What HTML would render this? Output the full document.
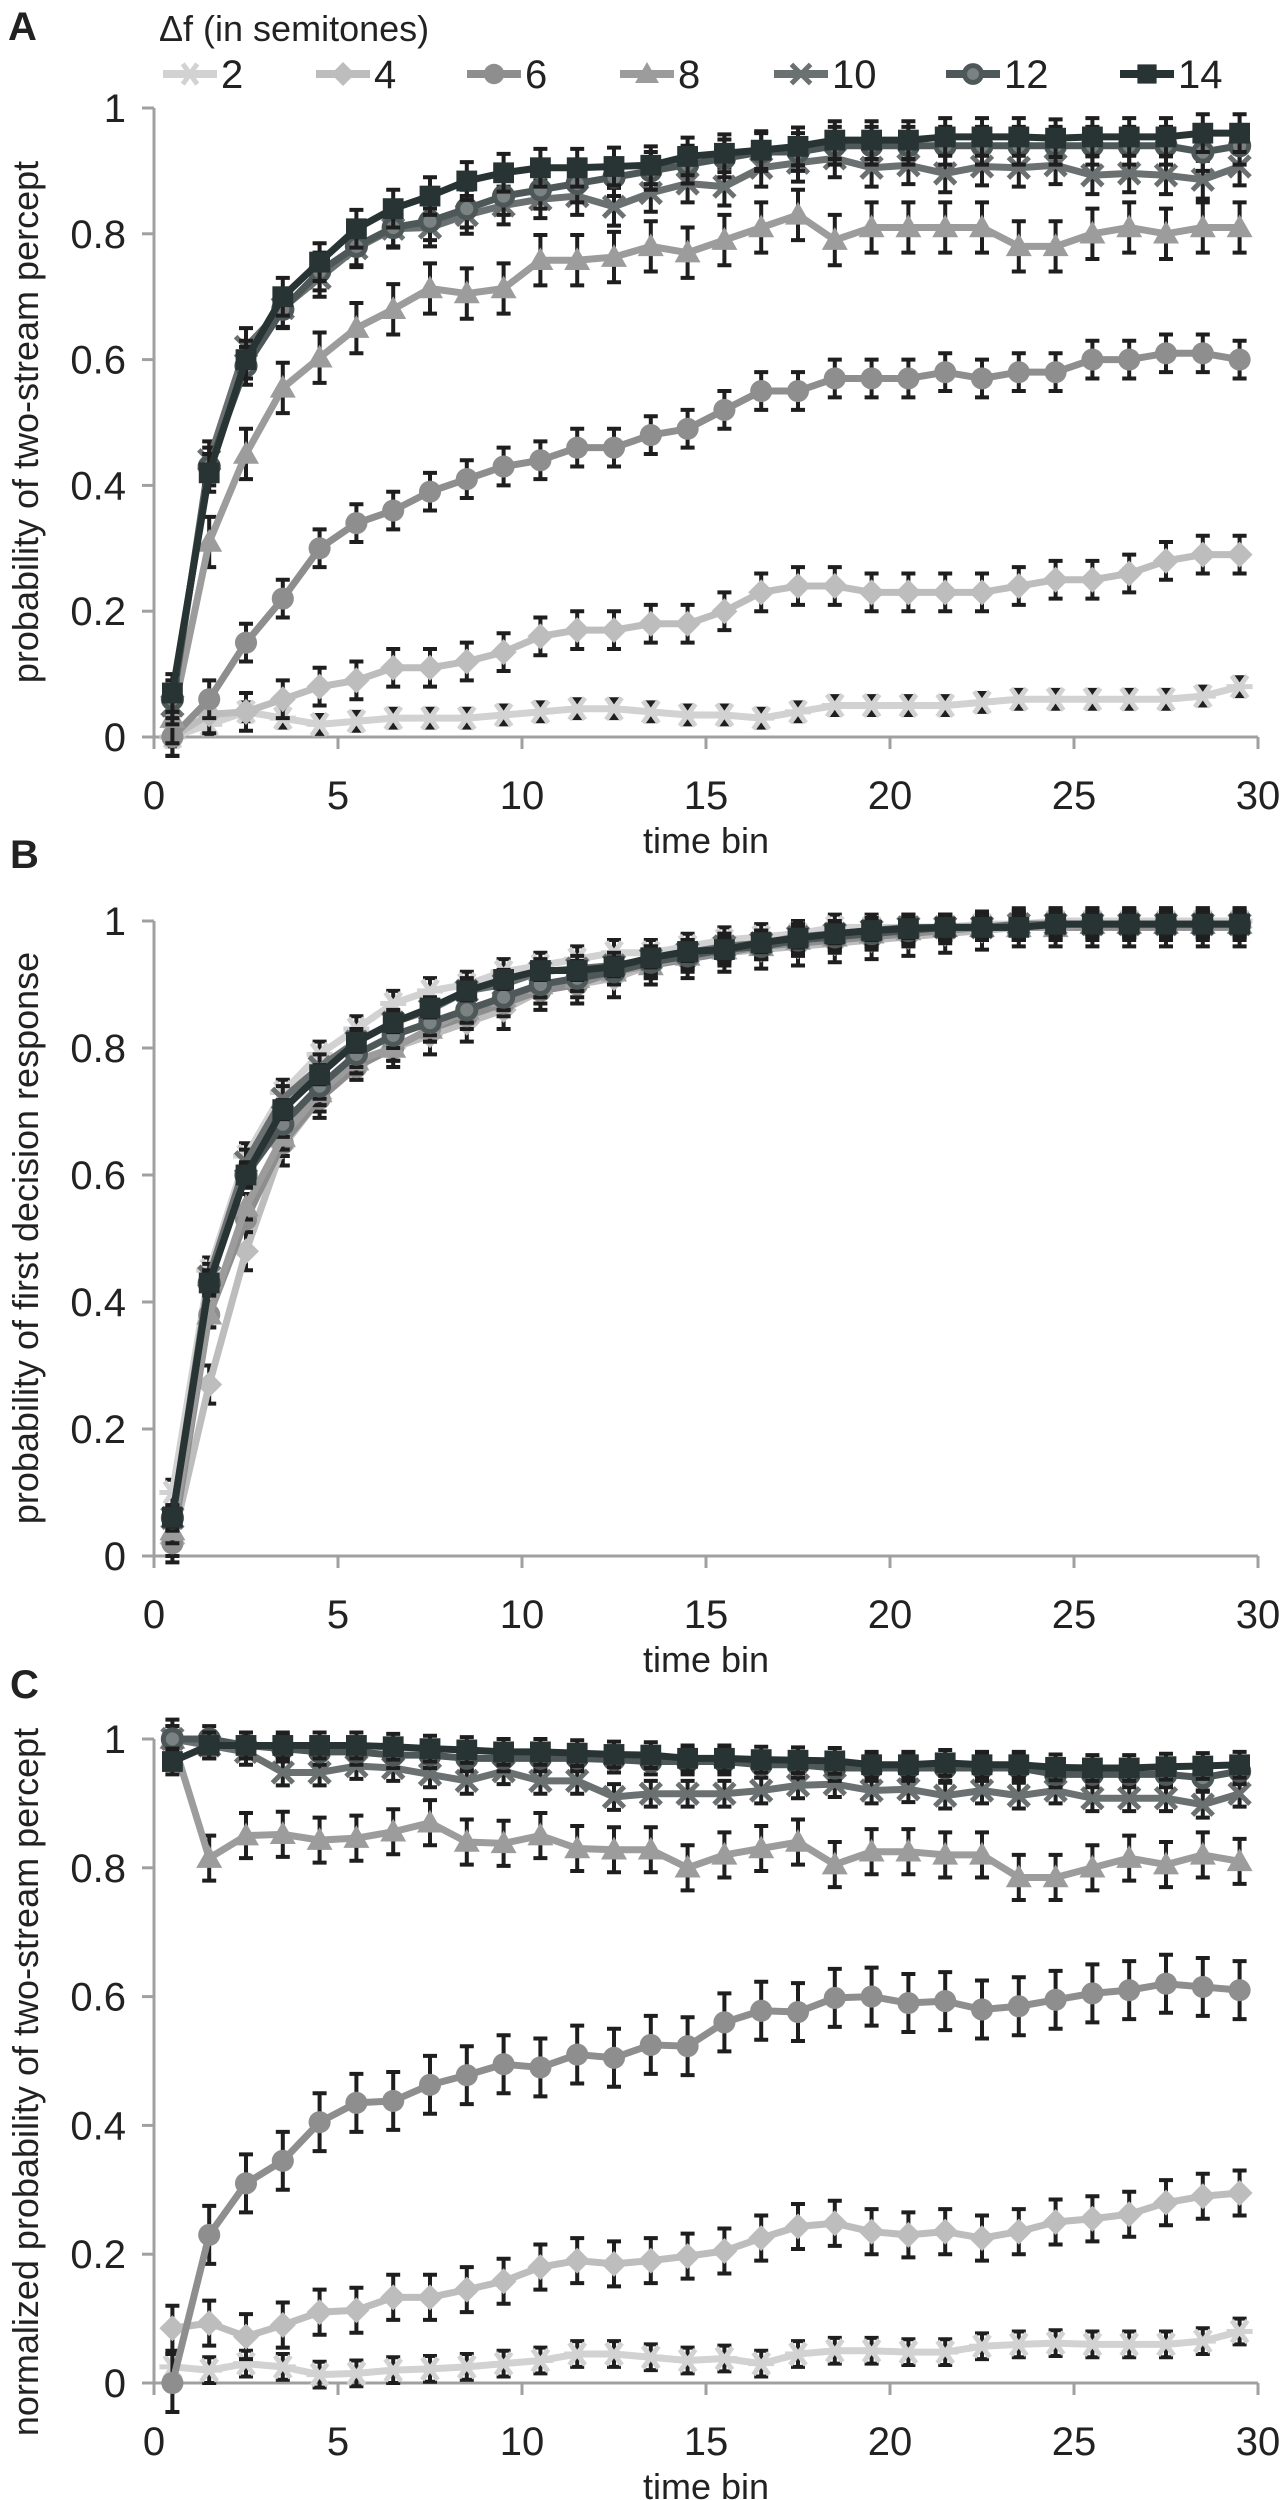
<!DOCTYPE html>
<html><head><meta charset="utf-8"><style>
html,body{margin:0;padding:0;background:#fff;}
svg{display:block;font-family:"Liberation Sans Narrow","Liberation Sans",sans-serif;}
</style></head><body>
<svg id="fig" width="1282" height="2500" viewBox="0 0 1282 2500" xmlns="http://www.w3.org/2000/svg">
<text x="8" y="40" font-family="Liberation Sans" font-weight="bold" font-size="40" fill="#222">A</text>
<text x="10" y="868" font-family="Liberation Sans" font-weight="bold" font-size="40" fill="#222">B</text>
<text x="10" y="1698" font-family="Liberation Sans" font-weight="bold" font-size="40" fill="#222">C</text>
<text x="159" y="41" font-size="36" fill="#222">Δf (in semitones)</text>
<g id="legend"></g>
</svg>
<script>
const bins = [0.5,1.5,2.5,3.5,4.5,5.5,6.5,7.5,8.5,9.5,10.5,11.5,12.5,13.5,14.5,15.5,16.5,17.5,18.5,19.5,20.5,21.5,22.5,23.5,24.5,25.5,26.5,27.5,28.5,29.5];
const seriesNames = ["2","4","6","8","10","12","14"];
const xTicks = [0,5,10,15,20,25,30];
const yTicks = [0,0.2,0.4,0.6,0.8,1];
const yTickLabels = ["0","0.2","0.4","0.6","0.8","1"];

const a2 = [0,0.02,0.04,0.03,0.02,0.025,0.03,0.03,0.03,0.035,0.04,0.045,0.045,0.04,0.035,0.035,0.03,0.04,0.05,0.05,0.05,0.05,0.055,0.06,0.06,0.06,0.06,0.06,0.065,0.08];
const a4 = [0,0.036,0.04,0.06,0.08,0.09,0.11,0.11,0.12,0.135,0.16,0.17,0.17,0.18,0.18,0.2,0.23,0.24,0.24,0.23,0.23,0.23,0.23,0.24,0.25,0.25,0.26,0.28,0.29,0.29];
const a6 = [0,0.06,0.15,0.22,0.3,0.34,0.36,0.39,0.41,0.43,0.44,0.46,0.46,0.48,0.49,0.52,0.55,0.55,0.57,0.57,0.57,0.58,0.57,0.58,0.58,0.6,0.6,0.61,0.61,0.6];
const a8 = [0.03,0.31,0.45,0.555,0.603,0.65,0.68,0.713,0.705,0.713,0.758,0.758,0.763,0.78,0.77,0.79,0.81,0.83,0.79,0.81,0.81,0.81,0.81,0.78,0.78,0.8,0.81,0.8,0.81,0.81];
const a10 = [0.05,0.44,0.62,0.682,0.73,0.777,0.808,0.81,0.83,0.845,0.855,0.86,0.843,0.865,0.88,0.875,0.905,0.913,0.92,0.905,0.909,0.896,0.907,0.905,0.909,0.893,0.896,0.893,0.886,0.907];
const a12 = [0.06,0.43,0.59,0.68,0.74,0.78,0.81,0.82,0.84,0.86,0.87,0.88,0.89,0.9,0.91,0.92,0.93,0.93,0.94,0.94,0.94,0.94,0.94,0.94,0.94,0.94,0.94,0.94,0.93,0.94];
const a14 = [0.07,0.42,0.6,0.7,0.755,0.808,0.84,0.86,0.884,0.897,0.905,0.905,0.907,0.909,0.923,0.928,0.933,0.939,0.949,0.949,0.949,0.954,0.954,0.954,0.952,0.954,0.954,0.954,0.96,0.96];
const aErr = [0.015,0.03,0.03,0.04,0.03,0.03,0.03];

const b2 = [0.1,0.45,0.63,0.73,0.79,0.83,0.87,0.89,0.9,0.92,0.93,0.94,0.95,0.95,0.96,0.97,0.975,0.98,0.99,0.99,0.99,0.99,0.995,0.995,1,1,1,1,1,1];
const b4 = [0.02,0.27,0.48,0.645,0.72,0.78,0.8,0.82,0.84,0.86,0.89,0.9,0.91,0.93,0.94,0.95,0.955,0.96,0.965,0.97,0.975,0.98,0.985,0.99,0.99,0.99,0.99,0.99,0.99,0.99];
const b6 = [0.02,0.38,0.53,0.65,0.72,0.77,0.8,0.83,0.85,0.87,0.89,0.9,0.92,0.93,0.94,0.95,0.96,0.965,0.97,0.975,0.98,0.985,0.99,0.99,0.99,0.99,0.99,0.99,0.99,0.99];
const b8 = [0.04,0.38,0.55,0.66,0.73,0.78,0.8,0.83,0.86,0.88,0.9,0.91,0.92,0.93,0.945,0.955,0.96,0.97,0.975,0.98,0.985,0.99,0.99,0.99,0.99,0.995,0.995,0.995,0.995,0.995];
const b10 = [0.06,0.44,0.62,0.72,0.77,0.81,0.84,0.86,0.89,0.9,0.92,0.925,0.93,0.94,0.95,0.96,0.965,0.975,0.98,0.985,0.99,0.99,0.99,0.995,0.995,0.995,0.995,0.995,0.995,0.995];
const b12 = [0.06,0.43,0.6,0.68,0.74,0.79,0.82,0.84,0.86,0.88,0.9,0.91,0.92,0.935,0.945,0.955,0.96,0.97,0.975,0.98,0.985,0.99,0.99,0.99,0.995,0.995,0.995,0.995,0.995,0.995];
const b14 = [0.061,0.43,0.6,0.703,0.758,0.809,0.84,0.863,0.89,0.908,0.922,0.922,0.928,0.942,0.952,0.955,0.966,0.973,0.98,0.985,0.988,0.99,0.99,0.99,0.995,0.995,0.995,0.995,0.995,0.995];
const bErr = [0.02,0.03,0.02,0.02,0.02,0.02,0.015];

const c2 = [0.025,0.02,0.03,0.025,0.013,0.015,0.02,0.022,0.025,0.03,0.035,0.045,0.045,0.04,0.035,0.038,0.03,0.045,0.05,0.05,0.048,0.048,0.057,0.06,0.062,0.06,0.06,0.06,0.065,0.08];
const c4 = [0.085,0.093,0.072,0.09,0.11,0.113,0.133,0.133,0.145,0.158,0.18,0.19,0.185,0.19,0.197,0.205,0.225,0.243,0.248,0.235,0.23,0.235,0.225,0.235,0.25,0.255,0.262,0.28,0.29,0.295];
const c6 = [0,0.23,0.31,0.345,0.405,0.435,0.438,0.463,0.478,0.495,0.49,0.51,0.505,0.525,0.523,0.56,0.578,0.576,0.598,0.6,0.59,0.593,0.58,0.585,0.595,0.605,0.61,0.62,0.615,0.61];
const c8 = [1,0.815,0.85,0.852,0.843,0.846,0.856,0.87,0.84,0.838,0.85,0.83,0.828,0.828,0.8,0.82,0.83,0.84,0.805,0.825,0.825,0.82,0.82,0.785,0.785,0.8,0.815,0.805,0.82,0.81];
const c10 = [1,0.99,0.98,0.948,0.948,0.958,0.955,0.945,0.935,0.95,0.935,0.935,0.91,0.915,0.915,0.915,0.92,0.928,0.93,0.92,0.922,0.912,0.92,0.912,0.92,0.908,0.908,0.908,0.898,0.915];
const c12 = [1,1,0.99,0.985,0.98,0.98,0.975,0.975,0.97,0.97,0.97,0.97,0.968,0.965,0.965,0.965,0.96,0.96,0.955,0.955,0.955,0.955,0.955,0.955,0.945,0.945,0.945,0.945,0.94,0.95];
const c14 = [0.965,0.99,0.99,0.99,0.99,0.99,0.988,0.985,0.983,0.98,0.98,0.978,0.976,0.975,0.97,0.97,0.968,0.967,0.966,0.96,0.96,0.963,0.96,0.96,0.956,0.955,0.955,0.957,0.958,0.96];
const cErr = [0.02,0.035,0.045,0.035,0.02,0.02,0.02];

const NS = "http://www.w3.org/2000/svg";
const svg = document.getElementById('fig');
const colors = ["#d2d2d2","#bdbdbd","#8e8e8e","#9c9c9c","#6b7070","#4f5858","#283333"];
const markers = ["star","diamond","circle","triangle","x","ring","square"];
const X0 = 154, X1 = 1258;
function xs(v){ return X0 + (v/30)*(X1-X0); }
function mk(tag, attrs, parent){
  const e = document.createElementNS(NS, tag);
  for (const k in attrs) e.setAttribute(k, attrs[k]);
  (parent||svg).appendChild(e);
  return e;
}
function drawMarker(g, type, cx, cy, col, s){
  let e;
  if (type==="star"){
    e = mk('path',{d:`M${cx-s} ${cy}H${cx+s}M${cx-s*0.6} ${cy-s*0.85}L${cx+s*0.6} ${cy+s*0.85}M${cx+s*0.6} ${cy-s*0.85}L${cx-s*0.6} ${cy+s*0.85}`,stroke:col,'stroke-width':5,fill:'none'},g);
  } else if (type==="diamond"){
    e = mk('path',{d:`M${cx} ${cy-s}L${cx+s} ${cy}L${cx} ${cy+s}L${cx-s} ${cy}Z`,fill:col},g);
  } else if (type==="circle"){
    e = mk('circle',{cx:cx,cy:cy,r:s*0.85,fill:col},g);
  } else if (type==="triangle"){
    e = mk('path',{d:`M${cx} ${cy-s}L${cx+s} ${cy+s*0.75}L${cx-s} ${cy+s*0.75}Z`,fill:col},g);
  } else if (type==="x"){
    e = mk('path',{d:`M${cx-s*0.8} ${cy-s*0.8}L${cx+s*0.8} ${cy+s*0.8}M${cx+s*0.8} ${cy-s*0.8}L${cx-s*0.8} ${cy+s*0.8}`,stroke:col,'stroke-width':5,fill:'none'},g);
  } else if (type==="ring"){
    e = mk('circle',{cx:cx,cy:cy,r:s*0.7,fill:'#7a8282',stroke:col,'stroke-width':5},g);
  } else {
    e = mk('rect',{x:cx-s*0.8,y:cy-s*0.8,width:s*1.6,height:s*1.6,fill:col},g);
  }
  
  
}
function panel(key, Y1, Y0, series, errs, ytitle, ytitleY){
  const ys = v => Y0 - v*(Y0-Y1);
  const g = mk('g',{});
  
  
  const ax = mk('path',{d:`M${X0} ${Y1}V${Y0}H${X1}`,stroke:'#a0a0a0','stroke-width':3,fill:'none'},g);
  
  
  yTicks.forEach((t,i)=>{
    const y = ys(t);
    const tk = mk('line',{x1:X0-12,x2:X0,y1:y,y2:y,stroke:'#a0a0a0','stroke-width':3},g);
    
    
    const tl = mk('text',{x:X0-28,y:y+14,'text-anchor':'end','font-size':40,fill:'#222'},g);
    
    
    tl.textContent = yTickLabels[i];
  });
  xTicks.forEach(t=>{
    const x = xs(t);
    const tk = mk('line',{x1:x,x2:x,y1:Y0,y2:Y0+12,stroke:'#a0a0a0','stroke-width':3},g);
    
    
    const tl = mk('text',{x:x,y:Y0+72,'text-anchor':'middle','font-size':40,fill:'#222'},g);
    
    
    tl.textContent = String(t);
  });
  const xt = mk('text',{x:(X0+X1)/2,y:Y0+116,'text-anchor':'middle','font-size':36,fill:'#222'},g);
  
  
  xt.textContent = 'time bin';
  const yt = mk('text',{x:0,y:0,'text-anchor':'middle','font-size':36,fill:'#222',transform:`translate(38 ${ytitleY}) rotate(-90)`},g);
  
  
  yt.textContent = ytitle;
  series.forEach((vals,si)=>{
    const sg = mk('g',{},g);
    
    
    vals.forEach((v,i)=>{
      const x = xs(bins[i]);
      const e = errs[si];
      const eb = mk('path',{d:`M${x} ${ys(v-e)}V${ys(Math.min(v+e,1.03))}M${x-7} ${ys(v-e)}H${x+7}M${x-7} ${ys(Math.min(v+e,1.03))}H${x+7}`,stroke:'#1e1e1e','stroke-width':4,fill:'none'},sg);
      
      
    });
    const pts = vals.map((v,i)=>xs(bins[i])+','+ys(v)).join(' ');
    const pl = mk('polyline',{points:pts,stroke:colors[si],'stroke-width':7,fill:'none','stroke-linejoin':'round'},sg);
    
    
    vals.forEach((v,i)=>drawMarker(sg, markers[si], xs(bins[i]), ys(v), colors[si], 13));
  });
}
panel('a',108,737,[a2,a4,a6,a8,a10,a12,a14],aErr,'probability of two-stream percept',422);
panel('b',921,1556,[b2,b4,b6,b8,b10,b12,b14],bErr,'probability of first decision response',1238);
panel('c',1739,2383,[c2,c4,c6,c8,c10,c12,c14],cErr,'normalized probability of two-stream percept',2082);

const leg = document.getElementById('legend');
const legX = [163,316,467,620,774,946,1120];
seriesNames.forEach((n,i)=>{
  const g = mk('g',{},leg);
  
  
  mk('line',{x1:legX[i],x2:legX[i]+54,y1:74,y2:74,stroke:colors[i],'stroke-width':8},g);
  drawMarker(g, markers[i], legX[i]+27, 74, colors[i], 12);
  const t = mk('text',{x:legX[i]+58,y:88,'font-size':40,fill:'#222'},g);
  
  
  t.textContent = n;
});
</script>
</body></html>
